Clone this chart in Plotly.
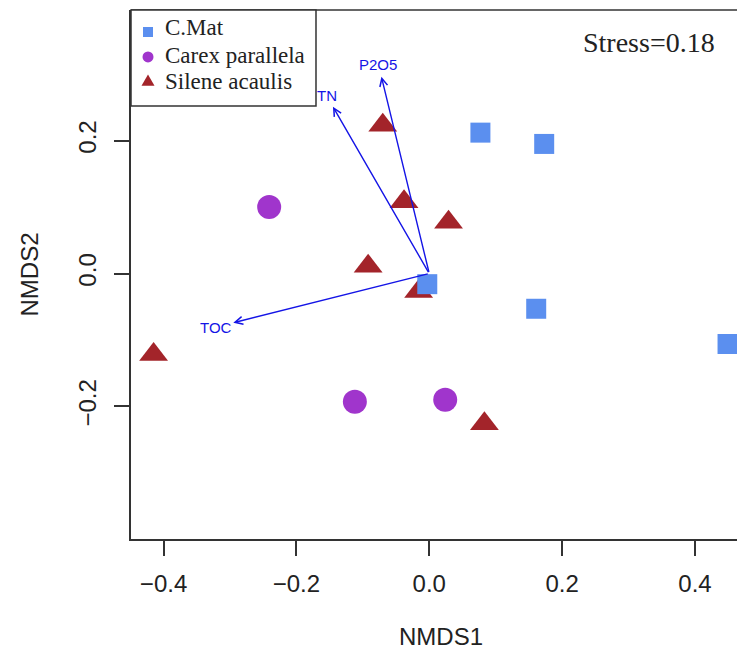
import math
import plotly.graph_objects as go

# ---- data ----
cmat_x = [0.077, 0.173, -0.003, 0.161, 0.449]
cmat_y = [0.212, 0.195, -0.016, -0.053, -0.106]

carex_x = [-0.241, -0.112, 0.024]
carex_y = [0.100, -0.193, -0.190]

silene_x = [-0.070, -0.038, 0.029, -0.092, -0.016, 0.083, -0.415]
silene_y = [0.223, 0.108, 0.077, 0.011, -0.027, -0.226, -0.122]

env_names = ["TN", "P2O5", "TOC"]
env_x = [-0.145, -0.072, -0.295]
env_y = [0.251, 0.296, -0.074]

stress = 0.18
x_ticks = [-0.4, -0.2, 0.0, 0.2, 0.4]
y_ticks = [-0.2, 0.0, 0.2]

legend_names = ["C.Mat", "Carex parallela", "Silene acaulis"]

# ---- styling ----
# the page adds an 8px body margin, so the figure is sized to fit inside the window
W, H = 737, 653
ML, MR, MT, MB = 123, 0, 2, 122
XR = [-0.449, 0.4753]
YR = [-0.3994, 0.3965]
BLUE_SQ = "#5B8FEF"
PURPLE = "#A035CC"
RED = "#A3242A"
ARROW = "#1414E6"
AX = "#333333"
TXT = "#222222"

fig = go.Figure()

fig.add_trace(go.Scatter(x=silene_x, y=silene_y, mode="markers", showlegend=False,
                         marker=dict(symbol="triangle-up", size=25, color=RED, line=dict(width=0))))
fig.add_trace(go.Scatter(x=carex_x, y=carex_y, mode="markers", showlegend=False,
                         marker=dict(symbol="circle", size=24, color=PURPLE, line=dict(width=0))))
fig.add_trace(go.Scatter(x=cmat_x, y=cmat_y, mode="markers", showlegend=False,
                         marker=dict(symbol="square", size=20, color=BLUE_SQ, line=dict(width=0))))

pw = W - ML - MR
ph = H - MT - MB
sx = pw / (XR[1] - XR[0])
sy = ph / (YR[1] - YR[0])

annotations = []
for name, vx, vy in zip(env_names, env_x, env_y):
    annotations.append(dict(x=vx, y=vy, ax=0, ay=0, xref="x", yref="y", axref="x", ayref="y",
                            text="", showarrow=True, arrowhead=5, arrowsize=1.1, arrowwidth=1.4,
                            arrowcolor=ARROW, standoff=0, startstandoff=0))
    px, py = vx * sx, vy * sy
    n = math.hypot(px, py)
    ux, uy = px / n, py / n
    tw = 0.64 * 15 * len(name)
    th = 11
    off = abs(ux) * tw / 2 + abs(uy) * th / 2 + 3
    annotations.append(dict(x=vx, y=vy, xref="x", yref="y", text=name, showarrow=False,
                            xshift=ux * off, yshift=uy * off, xanchor="center", yanchor="middle",
                            font=dict(family="Liberation Sans", size=15, color=ARROW)))

annotations.append(dict(x=0.8436, y=0.9395, xref="paper", yref="paper", text=f"Stress={stress}",
                        showarrow=False, xanchor="center", yanchor="middle",
                        font=dict(family="Liberation Serif", size=28, color=TXT)))
annotations.append(dict(x=0.505, y=-0.1834, xref="paper", yref="paper", text="NMDS1",
                        showarrow=False, xanchor="center", yanchor="middle",
                        font=dict(family="Liberation Sans", size=24, color=TXT)))
annotations.append(dict(x=-0.1645, y=0.5, xref="paper", yref="paper", text="NMDS2",
                        showarrow=False, xanchor="center", yanchor="middle", textangle=-90,
                        font=dict(family="Liberation Sans", size=24, color=TXT)))

# ---- manual legend (box, small symbols, serif text) ----
shapes = [dict(type="line", xref="paper", yref="paper", x0=0, x1=1, y0=1, y1=1,
               line=dict(color=AX, width=1.5)),
          dict(type="rect", xref="paper", yref="paper", x0=0, x1=0.3013, y0=0.8185, y1=1,
               fillcolor="white", line=dict(color=AX, width=1.5), layer="above")]
leg_sym_x = 0.0277
leg_sym_y = [0.9584, 0.9112, 0.8639]
leg_txt_y = [0.9660, 0.9149, 0.8639]
shapes.append(dict(type="rect", xref="paper", yref="paper", xsizemode="pixel", ysizemode="pixel",
                   xanchor=leg_sym_x, yanchor=leg_sym_y[0], x0=-5, x1=5, y0=-5, y1=5,
                   fillcolor=BLUE_SQ, line=dict(width=0), layer="above"))
shapes.append(dict(type="circle", xref="paper", yref="paper", xsizemode="pixel", ysizemode="pixel",
                   xanchor=leg_sym_x, yanchor=leg_sym_y[1], x0=-5.5, x1=5.5, y0=-5.5, y1=5.5,
                   fillcolor=PURPLE, line=dict(width=0), layer="above"))
shapes.append(dict(type="path", xref="paper", yref="paper", xsizemode="pixel", ysizemode="pixel",
                   xanchor=leg_sym_x, yanchor=leg_sym_y[2], path="M-6.5,-3.7 L6.5,-3.7 L0,7.4 Z",
                   fillcolor=RED, line=dict(width=0), layer="above"))
for name, ty in zip(legend_names, leg_txt_y):
    annotations.append(dict(x=0.0521, y=ty, xref="paper", yref="paper", text=name, showarrow=False,
                            xanchor="left", yanchor="middle",
                            font=dict(family="Liberation Serif", size=23, color=TXT)))

fig.update_layout(
    width=W, height=H,
    margin=dict(l=ML, r=MR, t=MT, b=MB, pad=0),
    paper_bgcolor="white", plot_bgcolor="white",
    showlegend=False,
    annotations=annotations,
    shapes=shapes,
    xaxis=dict(range=XR, showgrid=False, zeroline=False, showline=True, linecolor=AX, linewidth=1.5,
               ticks="outside", ticklen=15, tickwidth=1.5, tickcolor=AX,
               tickvals=x_ticks, tickformat=".1f", ticklabelstandoff=7,
               tickfont=dict(family="Liberation Sans", size=24, color=TXT)),
    yaxis=dict(range=YR, showgrid=False, zeroline=False, showline=True, linecolor=AX, linewidth=1.5,
               ticks="outside", ticklen=15, tickwidth=1.5, tickcolor=AX,
               tickvals=y_ticks, tickformat=".1f", tickangle=-90, ticklabelstandoff=9,
               tickfont=dict(family="Liberation Sans", size=24, color=TXT)),
)

fig.write_html("out.html")
